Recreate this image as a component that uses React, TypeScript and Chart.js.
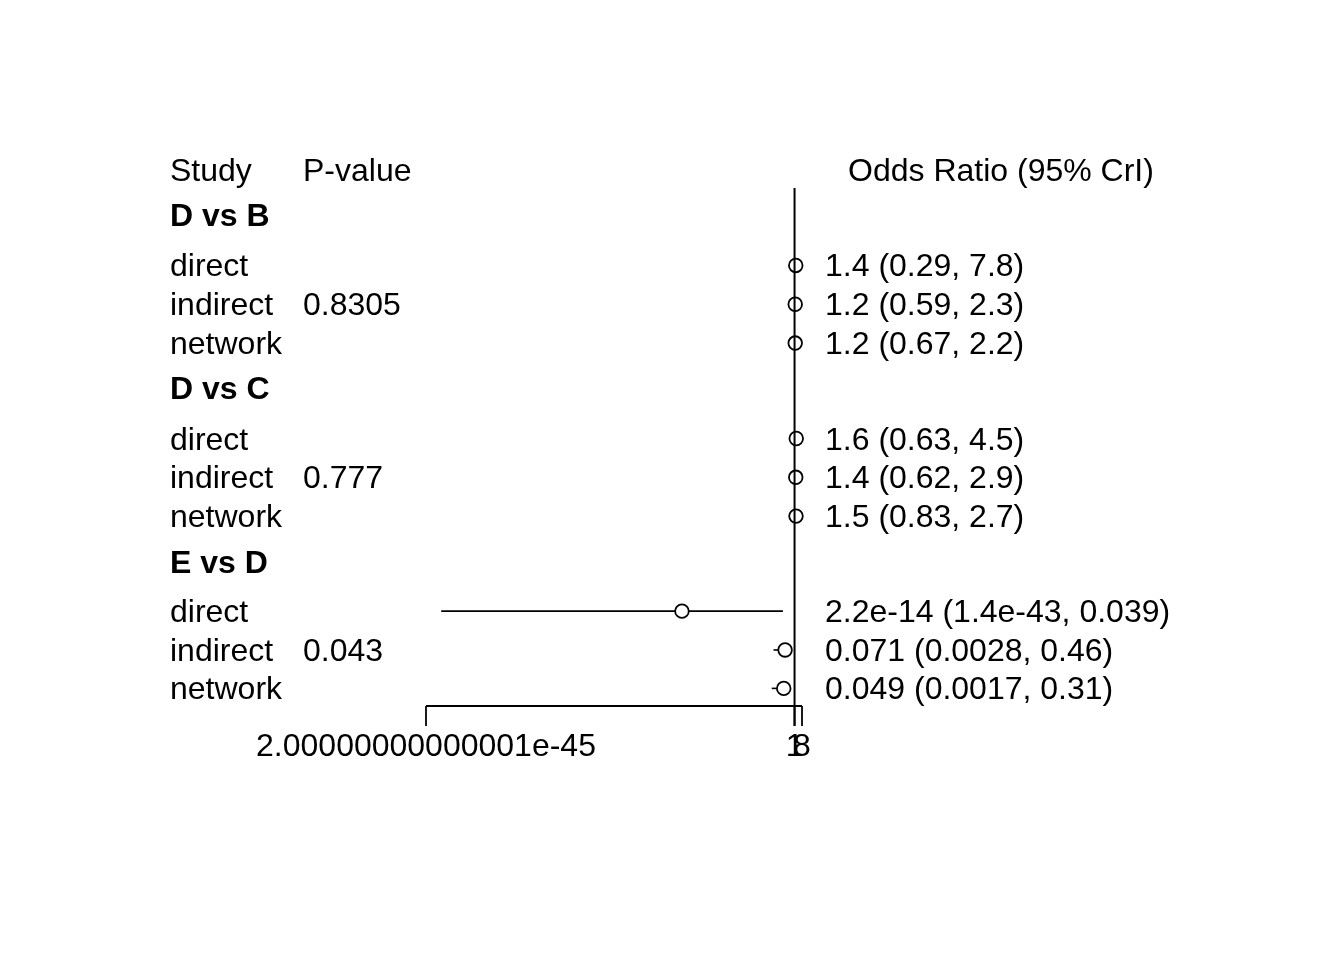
import React, { useEffect, useRef } from "react";
import { Chart, registerables } from "chart.js";

Chart.register(...registerables);

// ---- Data ----
const groupLabels = ["D vs B", "D vs C", "E vs D"];
const groupRows = [1.16, 5.63, 10.09];
const pValues = ["0.8305", "0.777", "0.043"];
const rowLabels = ["direct", "indirect", "network", "direct", "indirect", "network", "direct", "indirect", "network"];
const rowPositions = [2.46, 3.46, 4.46, 6.92, 7.92, 8.92, 11.37, 12.37, 13.36];
const estimates = [1.4, 1.2, 1.2, 1.6, 1.4, 1.5, 2.2e-14, 0.071, 0.049];
const lowerCI = [0.29, 0.59, 0.67, 0.63, 0.62, 0.83, 1.4e-43, 0.0028, 0.0017];
const upperCI = [7.8, 2.3, 2.2, 4.5, 2.9, 2.7, 0.039, 0.46, 0.31];
const ciLabels = [
  "1.4 (0.29, 7.8)",
  "1.2 (0.59, 2.3)",
  "1.2 (0.67, 2.2)",
  "1.6 (0.63, 4.5)",
  "1.4 (0.62, 2.9)",
  "1.5 (0.83, 2.7)",
  "2.2e-14 (1.4e-43, 0.039)",
  "0.071 (0.0028, 0.46)",
  "0.049 (0.0017, 0.31)",
];
const xTicks = [2e-45, 1, 8];
const xTickLabels = ["2.00000000000001e-45", "1", "8"];
const xMin = 2e-45;
const xMax = 8;
const yMax = 13.814;
const refLineTop = 0.464;
const refLineBottom = 14.33;

const FONT = '"Liberation Sans", Arial, sans-serif';

const forestPlugin = {
  id: "forestText",
  beforeDatasetsDraw(chart: any) {
    const ctx = chart.ctx;
    const x = chart.scales.x;
    const y = chart.scales.y;
    const bottom = y.getPixelForValue(yMax);
    ctx.save();
    ctx.strokeStyle = "#000";
    ctx.lineWidth = 1.8;
    ctx.beginPath();
    ctx.moveTo(x.getPixelForValue(xMin), bottom);
    ctx.lineTo(x.getPixelForValue(xMax), bottom);
    ctx.stroke();
    xTicks.forEach((t) => {
      const px = x.getPixelForValue(t);
      ctx.beginPath();
      ctx.moveTo(px, bottom);
      ctx.lineTo(px, bottom + 20);
      ctx.stroke();
    });
    ctx.restore();
  },
  afterDatasetsDraw(chart: any) {
    const ctx = chart.ctx;
    const x = chart.scales.x;
    const y = chart.scales.y;
    const bottom = y.getPixelForValue(yMax);
    const leftCol = 170;
    const pCol = 303;
    const rightCol = x.right + 23;
    ctx.save();
    // reference line at 1, drawn over the points
    ctx.strokeStyle = "#000";
    ctx.lineWidth = 2;
    const x1 = x.getPixelForValue(1);
    ctx.beginPath();
    ctx.moveTo(x1, y.getPixelForValue(refLineTop));
    ctx.lineTo(x1, y.getPixelForValue(refLineBottom));
    ctx.stroke();

    ctx.fillStyle = "#000";
    ctx.textBaseline = "alphabetic";
    ctx.font = `32px ${FONT}`;
    ctx.textAlign = "left";
    const base = (v: number) => y.getPixelForValue(v) + 11;
    ctx.fillText("Study", leftCol, base(0));
    ctx.fillText("P-value", pCol, base(0));
    ctx.fillText("Odds Ratio (95% CrI)", 848, base(0));
    ctx.font = `bold 32px ${FONT}`;
    groupLabels.forEach((g, i) => ctx.fillText(g, leftCol, base(groupRows[i])));
    ctx.font = `32px ${FONT}`;
    rowLabels.forEach((r, i) => {
      ctx.fillText(r, leftCol, base(rowPositions[i]));
      ctx.fillText(ciLabels[i], rightCol, base(rowPositions[i]));
    });
    pValues.forEach((p, i) => ctx.fillText(p, pCol, base(rowPositions[i * 3 + 1])));
    ctx.textAlign = "center";
    xTicks.forEach((t, i) => {
      ctx.fillText(xTickLabels[i], x.getPixelForValue(t), bottom + 50);
    });
    ctx.restore();
  },
};

export default function App() {
  const ref = useRef<HTMLCanvasElement | null>(null);
  useEffect(() => {
    document.body.style.margin = "0";
    const canvas = ref.current;
    if (!canvas) return;
    const ciDatasets = estimates.map((_, i) => ({
      type: "line" as const,
      data: [
        { x: lowerCI[i], y: rowPositions[i] },
        { x: upperCI[i], y: rowPositions[i] },
      ],
      borderColor: "#000",
      borderWidth: 1.6,
      pointRadius: 0,
      clip: false as any,
      order: 2,
    }));
    const chart = new Chart(canvas, {
      type: "scatter",
      data: {
        datasets: [
          ...ciDatasets,
          {
            type: "scatter" as const,
            data: estimates.map((e, i) => ({ x: e, y: rowPositions[i] })),
            borderColor: "#000",
            backgroundColor: "#ffffff",
            borderWidth: 1.8,
            pointRadius: 6.8,
            pointStyle: "circle",
            clip: false as any,
            order: 1,
          },
        ] as any,
      },
      options: {
        responsive: false,
        animation: false,
        devicePixelRatio: 1,
        layout: { padding: { left: 426, right: 542, top: 170, bottom: 254 } },
        plugins: { legend: { display: false }, tooltip: { enabled: false } },
        scales: {
          x: { type: "logarithmic", min: xMin, max: xMax, display: false },
          y: { type: "linear", min: 0, max: yMax, reverse: true, display: false },
        },
      },
      plugins: [forestPlugin],
    });
    return () => chart.destroy();
  }, []);
  return (
    <div style={{ width: 1344, height: 960, background: "#fff" }}>
      <canvas ref={ref} width={1344} height={960} style={{ display: "block" }} />
    </div>
  );
}
